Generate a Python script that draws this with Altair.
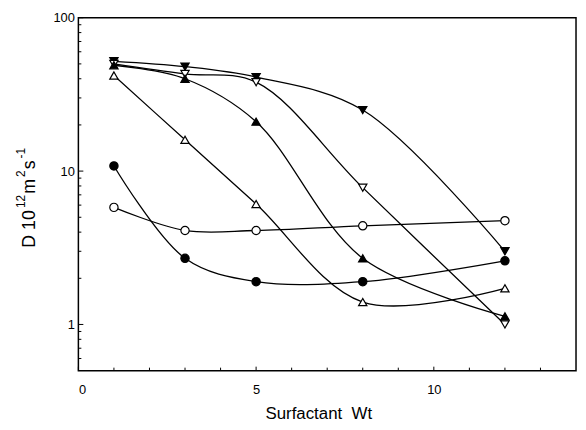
import altair as alt
import pandas as pd

# ---- data ----
surfactant_wt = [1, 3, 5, 8, 12]
series_names = ["tri_down_filled", "tri_down_open", "tri_up_filled",
                "tri_up_open", "circle_open", "circle_filled"]
tri_down_filled = [52, 48, 41, 25, 3.0]
tri_down_open = [50, 43, 38, 7.8, 1.0]
tri_up_filled = [49, 40, 21, 2.7, 1.13]
tri_up_open = [42, 16, 6.1, 1.4, 1.72]
circle_open = [5.8, 4.1, 4.1, 4.4, 4.75]
circle_filled = [10.8, 2.7, 1.9, 1.9, 2.6]

marker_shapes = ["triangle-down", "triangle-down", "triangle-up",
                 "triangle-up", "circle", "circle"]
marker_fills = ["black", "white", "black", "white", "white", "black"]

y_major = [1, 10, 100]
y_minor = [0.6, 0.7, 0.8, 0.9, 2, 3, 4, 5, 6, 7, 8, 9,
           20, 30, 40, 50, 60, 70, 80, 90]
x_major = [0, 5, 10]
x_minor = [1, 2, 3, 4, 6, 7, 8, 9, 11, 12, 13]

X_TITLE = "Surfactant\u00a0\u00a0Wt"
# y title pieces: (text, is_superscript)
Y_TITLE_PARTS = [("D 10", False), ("12", True), ("m", False),
                 ("2", True), ("s", False), ("-1", True)]

# ---- build table ----
all_series = [tri_down_filled, tri_down_open, tri_up_filled,
              tri_up_open, circle_open, circle_filled]
rows = []
for name, vals in zip(series_names, all_series):
    for xv, yv in zip(surfactant_wt, vals):
        rows.append({"series": name, "x": xv, "y": yv})
df = pd.DataFrame(rows)

W, H = 502, 356
FONT = "Liberation Sans"

xscale = alt.Scale(domain=[0, 14], nice=False, zero=False)
yscale = alt.Scale(type="log", domain=[0.5, 100], nice=False)

x_axis = alt.Axis(
    values=x_major, ticks=False, domain=False, grid=False, labelPadding=13,
    labelFontSize=13, labelFont=FONT, labelColor="black",
    titleFont=FONT, titleFontSize=17,
    titleFontWeight="normal", titleColor="black",
    titleX=242, titleY=48, titleBaseline="alphabetic")
y_axis = alt.Axis(
    values=y_major, ticks=False, domain=False, grid=False, labelPadding=4,
    labelFontSize=13, labelFont=FONT, labelColor="black",
    format="~g")

def xe():
    return alt.X("x:Q", scale=xscale, axis=x_axis, title=X_TITLE)

def ye():
    return alt.Y("y:Q", scale=yscale, axis=y_axis, title="")

lines = alt.Chart(df).mark_line(
    interpolate="catmull-rom", color="black", strokeWidth=1.3
).encode(x=xe(), y=ye(), detail="series:N")

points = alt.Chart(df).mark_point(
    filled=False, stroke="black", strokeWidth=1.2, size=70, opacity=1
).encode(
    x=xe(), y=ye(),
    shape=alt.Shape("series:N", scale=alt.Scale(domain=series_names, range=marker_shapes), legend=None),
    fill=alt.Fill("series:N", scale=alt.Scale(domain=series_names, range=marker_fills), legend=None),
)

# inward tick marks
ymaj = alt.Chart(pd.DataFrame({"y": y_major})).mark_rule(color="black").encode(
    y=ye(), x=alt.value(0), x2=alt.value(5))
ymin = alt.Chart(pd.DataFrame({"y": y_minor})).mark_rule(color="black").encode(
    y=ye(), x=alt.value(0), x2=alt.value(3))
xmaj = alt.Chart(pd.DataFrame({"x": x_major})).mark_rule(color="black").encode(
    x=xe(), y=alt.value(H), y2=alt.value(H - 4))
xmin = alt.Chart(pd.DataFrame({"x": x_minor})).mark_rule(color="black").encode(
    x=xe(), y=alt.value(H), y2=alt.value(H - 3))

# rotated y-axis title with real superscripts
MAIN_SIZE, SUP_SIZE = 18, 12
WIDTHS = {"D": 0.722, " ": 0.278, "1": 0.556, "0": 0.556, "2": 0.556,
          "m": 0.833, "s": 0.5, "-": 0.333}
title_layers = []
pos = 232.0
for text, sup in Y_TITLE_PARTS:
    size = SUP_SIZE if sup else MAIN_SIZE
    if sup:
        pos -= 2
    title_layers.append(
        alt.Chart(pd.DataFrame({"t": [text]})).mark_text(
            angle=270, align="left", baseline="alphabetic",
            font=FONT, fontSize=size, color="black"
        ).encode(text="t:N", x=alt.value(-54 if sup else -44), y=alt.value(pos))
    )
    pos -= sum(WIDTHS[c] for c in text) * size
    if sup:
        pos -= 1

chart = alt.layer(lines, points, ymaj, ymin, xmaj, xmin, *title_layers).properties(
    width=W, height=H,
    autosize=alt.AutoSizeParams(type="none"),
    padding={"left": 71, "top": 8, "right": 2, "bottom": 50},
    background="white",
).configure_view(stroke="black", strokeWidth=1.5)

chart.save("out.html", embed_options={"renderer": "svg", "actions": False})
